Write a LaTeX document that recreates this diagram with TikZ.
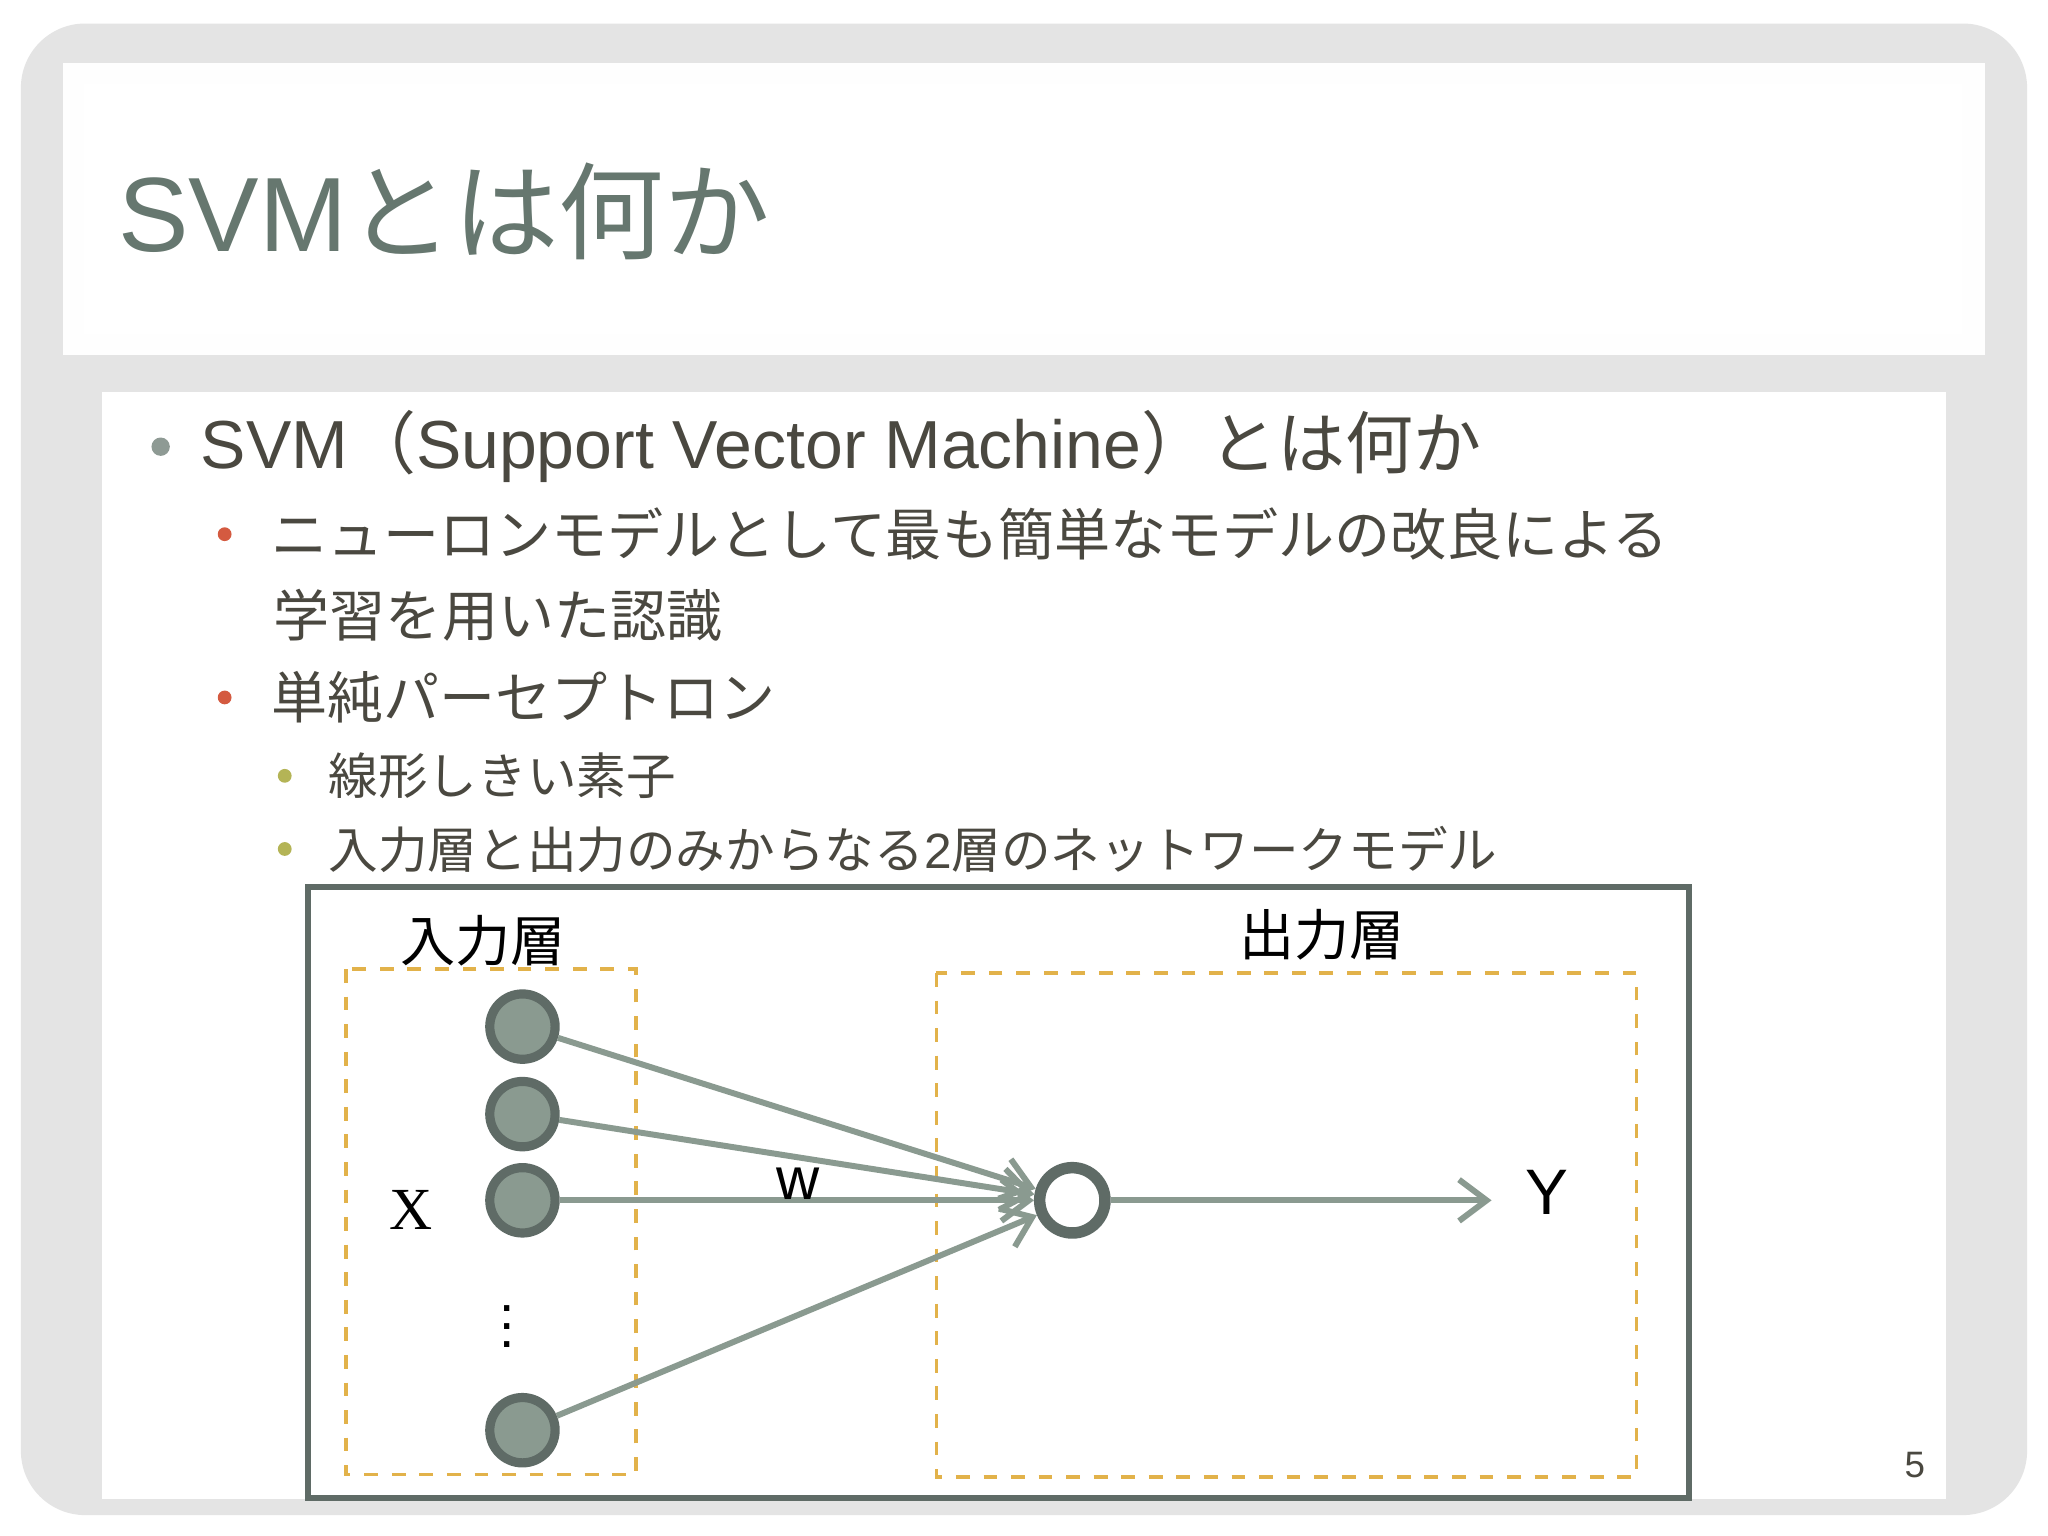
\documentclass[tikz,border=0pt]{standalone}
\usepackage{fontspec}
\setmainfont{Liberation Sans}
\newfontfamily\jp{Noto Sans CJK JP}
\newfontfamily\ser{Liberation Serif}
\usetikzlibrary{arrows.meta}
\definecolor{bgg}{HTML}{E4E4E4}
\definecolor{ttl}{HTML}{66776F}
\definecolor{txt}{HTML}{4A4840}
\definecolor{dk}{HTML}{5F6B66}
\definecolor{nd}{HTML}{8A9A90}
\definecolor{orn}{HTML}{E2B24A}
\definecolor{b1}{HTML}{8E9A94}
\definecolor{b2}{HTML}{D45A40}
\definecolor{b3}{HTML}{B4B456}
\tikzset{
 inode/.style={circle,draw=dk,line width=2pt,fill=nd,minimum size=0.5cm,inner sep=0},
 onode/.style={circle,draw=dk,line width=2.5pt,fill=white,minimum size=0.5cm,inner sep=0},
 conn/.style={nd,line width=1.3pt,-{Straight Barb[length=6pt,width=9pt,line width=1.3pt]}},
 dbox/.style={draw=orn,dashed,line width=0.8pt},
 lab/.style={anchor=west,inner sep=0,text=txt},
 dot/.style={circle,inner sep=0,minimum size=3pt}
}
\begin{document}
\begin{tikzpicture}[x=0.01cm,y=-0.01cm]
\useasboundingbox (0,0) rectangle (1568,1176);
\fill[white] (0,0) rectangle (1568,1176);
\fill[bgg,rounded corners=14] (16,18) rectangle (1552,1160);
\fill[white!95!bgg] (48,48) rectangle (1520,272);
\fill[white] (64,64) rectangle (1502,256);
\fill[white] (78,300) rectangle (1490,1148);
\node[anchor=west,inner sep=0,text=ttl,font=\fontsize{23}{28}\selectfont] (title) at (90,162) {SVM{\jp とは何か}};
% bullets
\node[dot,fill=b1,minimum size=4pt] (d1) at (123,342) {};
\node[lab,font=\fontsize{14.8}{18}\selectfont] (l1) at (153,342) {SVM{\jp （}Support Vector Machine{\jp ）とは何か}};
\node[dot,fill=b2] (d2) at (172,409) {};
\node[lab,font=\jp\fontsize{12.2}{15}\selectfont] (l2) at (207,409) {ニューロンモデルとして最も簡単なモデルの改良による};
\node[lab,font=\jp\fontsize{12.2}{15}\selectfont] (l2b) at (209,471) {学習を用いた認識};
\node[dot,fill=b2] (d3) at (172,534) {};
\node[lab,font=\jp\fontsize{12.2}{15}\selectfont] (l3) at (207,534) {単純パーセプトロン};
\node[dot,fill=b3] (d4) at (218,594) {};
\node[lab,font=\jp\fontsize{10.8}{13}\selectfont] (l4) at (251,594) {線形しきい素子};
\node[dot,fill=b3] (d5) at (218,650) {};
\node[lab,font=\jp\fontsize{10.8}{13}\selectfont] (l5) at (251,650) {入力層と出力のみからなる{\rmfamily 2}層のネットワークモデル};
% diagram
\draw[dk,line width=1.3pt] (236,679) rectangle (1293,1147);
\draw[dbox] (265,742) rectangle (487,1129);
\draw[dbox] (717,745) rectangle (1253,1131);
\node[font=\jp\fontsize{12}{15}\selectfont,text=black] (in) at (370,720) {入力層};
\node[font=\jp\fontsize{12}{15}\selectfont,text=black] (out) at (1012,716) {出力層};
\node[inode] (x1) at (400,786) {};
\node[inode] (x2) at (400,853) {};
\node[inode] (x3) at (400,919) {};
\node[inode] (x4) at (400,1095) {};
\node[onode] (o) at (821,919) {};
\coordinate (y) at (1142,919);
\draw[conn] (x1) -- (o);
\draw[conn] (x2) -- (o);
\draw[conn] (x3) -- (o);
\draw[conn] (x4) -- (o);
\draw[conn] (o) -- (y);
\node[font=\ser\fontsize{13}{15}\selectfont] (X) at (315,926) {X};
\node[font=\fontsize{13}{15}\selectfont] (w) at (611,906) {w};
\node[font=\fontsize{14}{16}\selectfont] (Y) at (1184,913) {Y};
\node[font=\fontsize{12}{14}\selectfont] (vd) at (388,1005) {$\vdots$};
\node[font=\fontsize{8}{10}\selectfont,text=txt] (pg) at (1466,1122) {5};
\end{tikzpicture}
\end{document}
